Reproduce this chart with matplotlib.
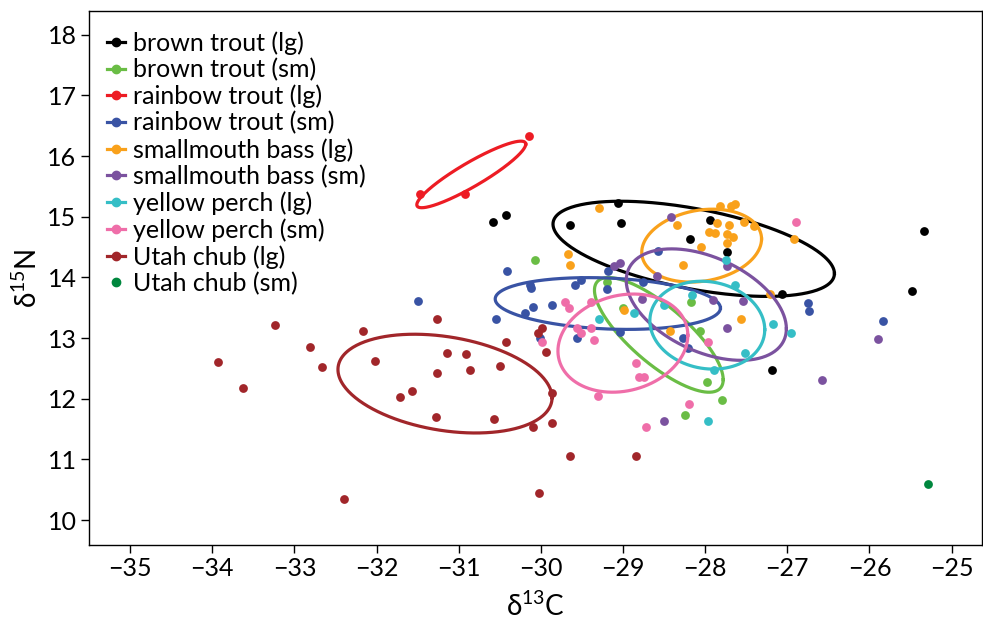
import numpy as np
import matplotlib
matplotlib.use("Agg")
import matplotlib.pyplot as plt
from matplotlib.lines import Line2D

plt.rcParams['font.family'] = ['Lato', 'DejaVu Sans']

# d13C / d15N values per group
bt_lg_x = [-30.58, -30.42, -29.65, -29.06, -29.02, -27.94, -28.19, -27.74, -27.07, -27.19, -25.33, -25.48]
bt_lg_y = [14.91, 15.02, 14.86, 15.23, 14.90, 14.95, 14.63, 14.42, 13.72, 12.48, 14.76, 13.77]

bt_sm_x = [-30.07, -29.19, -28.17, -29.00, -28.06, -27.98, -27.79, -28.25]
bt_sm_y = [14.29, 13.92, 13.60, 13.49, 13.12, 12.28, 11.98, 11.74]

rt_lg_x = [-31.47, -30.92, -30.15]
rt_lg_y = [15.38, 15.38, 16.33]

rt_sm_x = [-31.50, -30.41, -30.13, -30.12, -29.59, -29.51, -29.18, -29.19, -28.57, -30.09, -30.19,
           -29.87, -30.55, -30.01, -29.56, -29.04, -28.76, -28.27, -28.21, -26.75, -26.73, -25.83]
rt_sm_y = [13.61, 14.11, 13.87, 13.82, 13.87, 13.95, 14.11, 13.81, 14.43, 13.51, 13.42,
           13.54, 13.31, 13.00, 13.00, 13.10, 13.93, 13.00, 12.84, 13.57, 13.45, 13.28]

sb_lg_x = [-29.29, -29.67, -29.65, -28.34, -27.82, -27.69, -27.64, -27.86, -27.95, -27.88, -27.71, -27.73,
           -27.66, -27.73, -28.05, -27.53, -27.40, -28.27, -26.92, -28.99, -28.43, -27.56, -27.21]
sb_lg_y = [15.15, 14.38, 14.20, 14.87, 15.17, 15.18, 15.21, 14.89, 14.75, 14.73, 14.86, 14.71,
           14.67, 14.56, 14.50, 14.92, 14.84, 14.21, 14.63, 13.46, 13.12, 13.31, 13.72]

sb_sm_x = [-29.11, -29.04, -28.42, -28.58, -28.77, -27.91, -27.54, -27.74, -27.74, -26.58, -28.50, -25.90]
sb_sm_y = [14.19, 14.23, 15.00, 14.02, 13.65, 13.63, 13.61, 13.16, 14.19, 12.31, 11.64, 12.99]

yp_lg_x = [-27.75, -27.64, -28.16, -28.50, -28.87, -29.29, -27.18, -26.96, -27.51, -27.89, -27.96]
yp_lg_y = [14.29, 13.88, 13.71, 13.54, 13.41, 13.31, 13.24, 13.08, 12.76, 12.48, 11.64]

yp_sm_x = [-29.71, -29.66, -29.39, -29.56, -29.51, -29.39, -29.35, -29.98, -28.84, -28.80, -28.75,
           -29.31, -27.96, -28.72, -28.20, -26.89]
yp_sm_y = [13.60, 13.49, 13.60, 13.16, 13.08, 13.17, 12.97, 12.94, 12.59, 12.36, 12.36,
           12.04, 12.93, 11.54, 11.92, 14.92]

uc_lg_x = [-33.93, -33.63, -33.23, -32.81, -32.66, -32.16, -32.02, -32.40, -31.26, -31.14, -30.91, -30.86,
           -31.27, -31.57, -31.72, -31.28, -30.57, -30.50, -30.43, -30.04, -29.99, -29.94, -29.87, -29.87,
           -30.10, -29.64, -28.84, -30.02]
uc_lg_y = [12.60, 12.18, 13.22, 12.86, 12.53, 13.12, 12.63, 10.34, 13.31, 12.76, 12.73, 12.48,
           12.42, 12.12, 12.03, 11.70, 11.67, 12.54, 12.93, 13.09, 13.17, 12.77, 12.09, 11.60,
           11.53, 11.06, 11.06, 10.45]

uc_sm_x = [-25.29]
uc_sm_y = [10.60]

groups = [
    ("brown trout (lg)", bt_lg_x, bt_lg_y, "#000000"),
    ("brown trout (sm)", bt_sm_x, bt_sm_y, "#6abd45"),
    ("rainbow trout (lg)", rt_lg_x, rt_lg_y, "#ed1c24"),
    ("rainbow trout (sm)", rt_sm_x, rt_sm_y, "#3953a4"),
    ("smallmouth bass (lg)", sb_lg_x, sb_lg_y, "#f9a11b"),
    ("smallmouth bass (sm)", sb_sm_x, sb_sm_y, "#7b529f"),
    ("yellow perch (lg)", yp_lg_x, yp_lg_y, "#35bec6"),
    ("yellow perch (sm)", yp_sm_x, yp_sm_y, "#ef6ea9"),
    ("Utah chub (lg)", uc_lg_x, uc_lg_y, "#a1262a"),
    ("Utah chub (sm)", uc_sm_x, uc_sm_y, "#00873e"),
]


def std_ellipse(x, y, n=300):
    # standard (1 SD) ellipse from the sample covariance
    x = np.asarray(x)
    y = np.asarray(y)
    cov = np.cov(x, y)
    L = np.linalg.cholesky(cov)
    t = np.linspace(0, 2 * np.pi, n)
    pts = L @ np.vstack([np.cos(t), np.sin(t)])
    return pts[0] + x.mean(), pts[1] + y.mean()


fig = plt.figure(figsize=(9.83, 6.19), dpi=100)
ax = fig.add_axes([89 / 983, 1 - 545 / 619, 893 / 983, 534 / 619])

handles = []
for label, gx, gy, col in groups:
    ax.scatter(gx, gy, s=40, color=col, linewidths=0, zorder=3)
    if len(gx) > 2:
        ex, ey = std_ellipse(gx, gy)
        ax.plot(ex, ey, color=col, linewidth=2.3, zorder=3)
        handles.append(Line2D([], [], color=col, linewidth=2.3, marker='o', markersize=6, label=label))
    else:
        handles.append(Line2D([], [], color=col, linestyle='none', marker='o', markersize=6, label=label))

ax.set_xlim(-35.5, -24.63)
ax.set_ylim(9.59, 18.39)
ax.set_xticks(np.arange(-35, -24, 1))
ax.set_yticks(np.arange(10, 19, 1))
ax.tick_params(direction='out', length=6, width=1, labelsize=18, pad=3)
for sp in ax.spines.values():
    sp.set_linewidth(1)

ax.set_xlabel(r'$\mathregular{\delta^{13}C}$', fontsize=20, labelpad=8)
ax.set_ylabel(r'$\mathregular{\delta^{15}N}$', fontsize=20, labelpad=4)

ax.legend(handles=handles, loc='upper left', frameon=False, fontsize=18,
          handlelength=0.75, handletextpad=0.3, labelspacing=0.13,
          borderaxespad=0.3, bbox_to_anchor=(0.0, 0.995))

fig.savefig("out.png", dpi=100)
